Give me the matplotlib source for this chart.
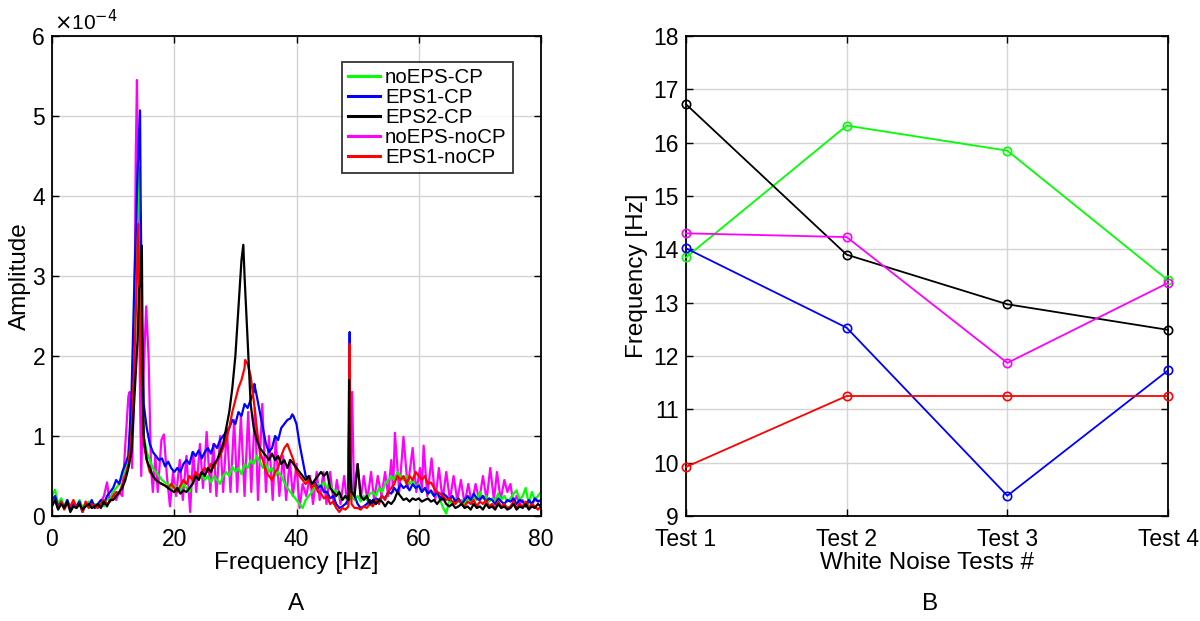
import numpy as np
import matplotlib
matplotlib.use("Agg")
import matplotlib.pyplot as plt

plt.rcParams['font.family'] = ['Liberation Sans', 'DejaVu Sans']

# ---------------- Data: panel A (amplitude in units of 1e-4) ----------------
grid_step = 0.5
# base samples on a 0.5 Hz grid from 0 to 80 Hz (rows of 5 Hz)
a_green = [
    0.25, 0.33, 0.15, 0.22, 0.12, 0.20, 0.10, 0.18, 0.12, 0.20,
    0.10, 0.15, 0.18, 0.10, 0.15, 0.12, 0.18, 0.12, 0.22, 0.20,
    0.30, 0.35, 0.40, 0.50, 0.60, 0.80, 1.30, 2.50, 3.80, 3.00,
    1.00, 0.80, 0.70, 0.60, 0.55, 0.50, 0.45, 0.42, 0.40, 0.35,
    0.38, 0.35, 0.32, 0.40, 0.35, 0.30, 0.45, 0.50, 0.45, 0.52,
    0.45, 0.50, 0.42, 0.50, 0.45, 0.40, 0.50, 0.55, 0.50, 0.62,
    0.55, 0.60, 0.52, 0.65, 0.60, 0.70, 0.65, 0.75, 0.68, 0.60,
    0.65, 0.55, 0.60, 0.50, 0.55, 0.50, 0.42, 0.35, 0.30, 0.25,
    0.20, 0.15, 0.10, 0.20, 0.25, 0.30, 0.35, 0.40, 0.38, 0.42,
    0.35, 0.40, 0.30, 0.32, 0.25, 0.20, 0.25, 0.18, 0.25, 0.20,
    0.25, 0.18, 0.25, 0.20, 0.28, 0.30, 0.25, 0.35, 0.30, 0.40,
    0.45, 0.50, 0.45, 0.55, 0.50, 0.45, 0.50, 0.40, 0.45, 0.35,
    0.40, 0.30, 0.35, 0.28, 0.30, 0.25, 0.28, 0.20, 0.10, 0.03,
    0.20, 0.15, 0.22, 0.18, 0.20, 0.15, 0.22, 0.18, 0.25, 0.20,
    0.30, 0.22, 0.25, 0.18, 0.22, 0.20, 0.28, 0.20, 0.25, 0.18,
    0.22, 0.28, 0.32, 0.20, 0.25, 0.35, 0.15, 0.30, 0.20, 0.25,
    0.30]
f_green_pk = [14.2, 14.3, 14.7]
a_green_pk = [4.20, 4.35, 1.80]

a_blue = [
    0.20, 0.25, 0.12, 0.18, 0.10, 0.20, 0.08, 0.15, 0.12, 0.18,
    0.05, 0.15, 0.12, 0.20, 0.10, 0.15, 0.20, 0.15, 0.25, 0.30,
    0.35, 0.45, 0.40, 0.55, 0.65, 0.75, 1.50, 3.00, 4.30, 4.00,
    1.40, 1.10, 0.90, 0.80, 0.75, 0.70, 0.72, 0.62, 0.68, 0.60,
    0.55, 0.60, 0.55, 0.65, 0.70, 0.65, 0.80, 0.75, 0.82, 0.72,
    0.80, 0.85, 0.78, 0.90, 0.85, 0.95, 1.00, 1.05, 1.10, 1.20,
    1.15, 1.30, 1.25, 1.40, 1.35, 1.45, 1.55, 1.50, 1.30, 1.10,
    0.90, 0.80, 0.85, 1.00, 0.95, 1.10, 1.15, 1.20, 1.22, 1.25,
    1.15, 0.90, 0.70, 0.50, 0.45, 0.40, 0.42, 0.35, 0.38, 0.30,
    0.30, 0.22, 0.25, 0.15, 0.10, 0.12, 0.15, 0.20, 0.30, 0.25,
    0.15, 0.10, 0.12, 0.15, 0.20, 0.15, 0.22, 0.20, 0.25, 0.22,
    0.30, 0.28, 0.35, 0.30, 0.40, 0.35, 0.38, 0.32, 0.40, 0.35,
    0.38, 0.30, 0.35, 0.28, 0.32, 0.25, 0.30, 0.22, 0.28, 0.25,
    0.20, 0.25, 0.18, 0.22, 0.15, 0.20, 0.25, 0.20, 0.28, 0.22,
    0.20, 0.25, 0.18, 0.22, 0.20, 0.15, 0.22, 0.18, 0.15, 0.20,
    0.18, 0.22, 0.15, 0.20, 0.18, 0.12, 0.20, 0.15, 0.22, 0.18,
    0.20]
f_blue_pk = [13.8, 14.2, 14.4, 14.7, 33.1, 39.3, 48.6, 48.7, 48.8]
a_blue_pk = [3.80, 4.70, 5.07, 2.50, 1.65, 1.27, 1.00, 2.30, 0.80]

a_red = [
    0.15, 0.20, 0.10, 0.18, 0.08, 0.15, 0.12, 0.20, 0.10, 0.15,
    0.05, 0.18, 0.10, 0.15, 0.12, 0.10, 0.15, 0.20, 0.15, 0.18,
    0.25, 0.30, 0.28, 0.40, 0.50, 0.65, 1.00, 2.00, 3.40, 2.00,
    0.90, 0.70, 0.55, 0.50, 0.45, 0.42, 0.40, 0.38, 0.35, 0.40,
    0.35, 0.30, 0.38, 0.45, 0.40, 0.50, 0.45, 0.55, 0.50, 0.55,
    0.60, 0.55, 0.65, 0.60, 0.70, 0.75, 0.85, 0.95, 1.10, 1.30,
    1.45, 1.60, 1.70, 1.85, 1.90, 1.75, 1.45, 1.10, 0.80, 0.70,
    0.55, 0.50, 0.45, 0.55, 0.60, 0.75, 0.85, 0.90, 0.80, 0.70,
    0.55, 0.50, 0.45, 0.40, 0.45, 0.35, 0.40, 0.30, 0.28, 0.22,
    0.25, 0.15, 0.18, 0.10, 0.05, 0.10, 0.08, 0.12, 0.15, 0.10,
    0.10, 0.08, 0.12, 0.10, 0.15, 0.12, 0.20, 0.15, 0.25, 0.20,
    0.30, 0.35, 0.40, 0.50, 0.45, 0.50, 0.40, 0.50, 0.45, 0.55,
    0.50, 0.45, 0.50, 0.40, 0.42, 0.35, 0.30, 0.28, 0.25, 0.20,
    0.22, 0.18, 0.15, 0.20, 0.15, 0.12, 0.18, 0.15, 0.20, 0.12,
    0.18, 0.15, 0.20, 0.12, 0.15, 0.10, 0.18, 0.12, 0.15, 0.10,
    0.12, 0.18, 0.10, 0.15, 0.12, 0.18, 0.10, 0.15, 0.12, 0.08,
    0.12]
f_red_pk = [13.9, 14.1, 14.3, 31.6, 48.6, 48.7, 48.8]
a_red_pk = [3.00, 3.65, 2.80, 1.95, 1.00, 2.15, 0.80]

a_black = [
    0.12, 0.20, 0.08, 0.15, 0.10, 0.18, 0.05, 0.12, 0.10, 0.15,
    0.08, 0.12, 0.15, 0.10, 0.12, 0.15, 0.10, 0.18, 0.12, 0.20,
    0.20, 0.25, 0.30, 0.35, 0.45, 0.60, 0.80, 1.50, 2.20, 2.90,
    1.00, 0.70, 0.60, 0.50, 0.45, 0.42, 0.40, 0.38, 0.35, 0.32,
    0.30, 0.35, 0.28, 0.32, 0.30, 0.35, 0.40, 0.50, 0.45, 0.55,
    0.50, 0.60, 0.55, 0.65, 0.70, 0.80, 0.90, 1.10, 1.30, 1.60,
    2.00, 2.60, 3.20, 3.00, 2.20, 1.40, 1.10, 0.95, 0.85, 0.80,
    0.75, 0.70, 0.78, 0.70, 0.75, 0.65, 0.70, 0.60, 0.70, 0.65,
    0.60, 0.55, 0.50, 0.45, 0.50, 0.40, 0.45, 0.50, 0.55, 0.50,
    0.55, 0.35, 0.30, 0.25, 0.30, 0.20, 0.25, 0.20, 0.30, 0.25,
    0.65, 0.25, 0.20, 0.25, 0.15, 0.20, 0.15, 0.20, 0.18, 0.12,
    0.18, 0.15, 0.20, 0.30, 0.25, 0.20, 0.22, 0.18, 0.22, 0.20,
    0.22, 0.18, 0.20, 0.22, 0.18, 0.20, 0.15, 0.20, 0.22, 0.15,
    0.12, 0.15, 0.10, 0.12, 0.15, 0.10, 0.12, 0.08, 0.15, 0.10,
    0.12, 0.08, 0.15, 0.10, 0.12, 0.08, 0.15, 0.10, 0.12, 0.08,
    0.10, 0.15, 0.08, 0.12, 0.10, 0.15, 0.08, 0.12, 0.10, 0.15,
    0.12]
f_black_pk = [14.25, 14.7, 14.85, 31.3, 48.5, 48.6, 48.7]
a_black_pk = [2.85, 3.38, 1.80, 3.39, 0.80, 1.70, 0.70]

f_magenta = [
    0.0, 0.5, 1.0, 1.5, 2.0, 2.5, 3.0, 3.5, 4.0, 4.5, 5.0, 5.5, 6.0, 6.5, 7.0, 7.5, 8.0, 8.5,
    9.0, 9.4, 10.0, 10.5, 11.0, 11.5, 12.0, 12.5, 12.7, 13.1, 13.4, 13.7, 13.9, 14.1, 14.4, 14.6,
    15.0, 15.4, 15.8, 16.2, 16.5, 16.9, 17.3, 17.9, 18.3, 18.8, 19.3, 19.8, 20.3, 20.9, 21.4,
    22.0, 22.6, 23.1, 23.6, 24.2, 24.7, 25.3, 25.9, 26.4, 26.9, 27.5, 28.0, 28.6, 29.2, 29.8,
    30.3, 30.9, 31.5, 32.1, 32.6, 33.2, 33.7, 34.4, 35.0, 35.5, 36.1, 36.6, 37.2, 37.8, 38.3,
    38.9, 39.4, 40.0, 40.5, 41.0, 41.6, 42.2, 42.7, 43.3, 43.8, 44.4, 44.9, 45.5, 46.1, 46.6,
    47.2, 47.8, 48.3, 48.8, 49.1, 49.4, 50.0, 50.5, 51.0, 51.6, 52.2, 52.7, 53.3, 53.9, 54.5,
    55.0, 55.5, 55.8, 56.1, 56.8, 57.5, 58.2, 59.0, 59.6, 60.2, 60.5, 60.8, 61.4, 62.1, 62.7,
    63.3, 63.9, 64.5, 65.1, 65.7, 66.3, 66.9, 67.5, 68.1, 68.7, 69.3, 69.9, 70.5, 71.1, 71.7,
    72.3, 72.8, 73.4, 74.0, 74.5, 75.0, 75.5, 76.0, 76.5, 77.0, 77.5, 78.0, 78.5, 79.0, 80.0]
a_magenta = [
    0.15, 0.20, 0.10, 0.18, 0.12, 0.20, 0.10, 0.15, 0.12, 0.18, 0.10, 0.15, 0.12, 0.18, 0.10, 0.15, 0.18, 0.25,
    0.42, 0.20, 0.30, 0.20, 0.30, 0.25, 0.90, 1.50, 1.55, 0.60, 1.50, 4.50, 5.45, 4.00, 1.50, 0.50,
    1.80, 2.62, 2.00, 0.60, 0.30, 0.75, 0.30, 0.95, 1.02, 0.50, 0.12, 0.55, 0.25, 0.70, 0.20,
    0.75, 0.05, 0.80, 0.30, 0.90, 0.35, 1.05, 0.30, 0.90, 0.25, 1.00, 0.30, 1.10, 0.30, 1.20,
    0.30, 1.25, 0.25, 1.30, 0.30, 1.35, 0.20, 1.40, 0.30, 1.00, 0.20, 0.95, 0.25, 0.75, 0.20,
    0.70, 0.25, 0.65, 0.10, 0.40, 0.25, 0.50, 0.15, 0.55, 0.20, 0.55, 0.15, 0.55, 0.15, 0.45,
    0.15, 0.50, 0.15, 0.30, 1.55, 0.30, 0.65, 0.20, 0.50, 0.20, 0.55, 0.20, 0.50, 0.25, 0.55,
    0.25, 0.70, 0.30, 1.04, 0.30, 0.99, 0.35, 0.85, 0.30, 0.60, 0.30, 0.88, 0.25, 0.72, 0.20,
    0.60, 0.20, 0.55, 0.20, 0.50, 0.20, 0.45, 0.15, 0.40, 0.15, 0.40, 0.20, 0.50, 0.20, 0.60,
    0.20, 0.55, 0.20, 0.45, 0.30, 0.40, 0.15, 0.25, 0.15, 0.20, 0.12, 0.20, 0.15, 0.20, 0.18]

# ---------------- Data: panel B ----------------
tests = ["Test 1", "Test 2", "Test 3", "Test 4"]
fr_noEPS_CP = [13.85, 16.32, 15.85, 13.42]
fr_EPS1_CP = [14.02, 12.53, 9.38, 11.73]
fr_EPS2_CP = [16.72, 13.90, 12.97, 12.49]
fr_noEPS_noCP = [14.30, 14.23, 11.87, 13.37]
fr_EPS1_noCP = [9.92, 11.25, 11.25, 11.25]

labels = ["noEPS-CP", "EPS1-CP", "EPS2-CP", "noEPS-noCP", "EPS1-noCP"]
colors = ["#00ff00", "#0000ff", "#000000", "#ff00ff", "#ff0000"]


def merge(base, fpk, apk):
    fb = np.arange(len(base)) * grid_step
    f = np.concatenate([fb, fpk])
    a = np.concatenate([np.asarray(base, float), apk])
    o = np.argsort(f, kind="stable")
    return f[o], a[o]


fig = plt.figure(figsize=(12, 6.21), dpi=100)
axA = fig.add_axes([52 / 1200, 1 - 516 / 621, (541 - 52) / 1200, 480 / 621])
axB = fig.add_axes([686 / 1200, 1 - 516 / 621, (1168 - 686) / 1200, 480 / 621])

TFS = 16.5   # tick labels
LFS = 17.5   # axis labels
for ax in (axA, axB):
    ax.grid(True, color="#d4d4d4", lw=1.0)
    ax.set_axisbelow(True)
    ax.tick_params(direction="in", top=True, right=True, length=5, width=1.0,
                   labelsize=TFS)
    ax.tick_params(axis="x", pad=9)
    ax.tick_params(axis="y", pad=5)
    for s in ax.spines.values():
        s.set_linewidth(1.3)

series = {
    "noEPS-CP": merge(a_green, f_green_pk, a_green_pk),
    "EPS1-CP": merge(a_blue, f_blue_pk, a_blue_pk),
    "EPS2-CP": merge(a_black, f_black_pk, a_black_pk),
    "noEPS-noCP": (np.array(f_magenta), np.array(a_magenta)),
    "EPS1-noCP": merge(a_red, f_red_pk, a_red_pk),
}
handles = {}
draw_order = ["noEPS-noCP", "noEPS-CP", "EPS1-CP", "EPS1-noCP", "EPS2-CP"]
for lab in draw_order:
    f, a = series[lab]
    c = colors[labels.index(lab)]
    (h,) = axA.plot(f, a, color=c, lw=1.6, label=lab)
    handles[lab] = h

axA.set_xlim(0, 80)
axA.set_ylim(0, 6)
axA.set_xticks([0, 20, 40, 60, 80])
axA.set_yticks([0, 1, 2, 3, 4, 5, 6])
axA.set_xlabel("Frequency [Hz]", fontsize=LFS)
axA.set_ylabel("Amplitude", fontsize=LFS)
axA.text(0.005, 1.004, r"$\times$10$^{-4}$", transform=axA.transAxes, fontsize=15,
         ha="left", va="bottom")
leg = axA.legend([handles[l] for l in labels], labels, loc="upper left",
                 bbox_to_anchor=((342 - 52) / 489, (516 - 62) / 480), fontsize=14.8,
                 frameon=True, fancybox=False, edgecolor="black", handlelength=1.55,
                 labelspacing=0.05, borderpad=0.3, handletextpad=0.25,
                 borderaxespad=0)
leg.get_frame().set_linewidth(1.3)
for lh in leg.get_lines():
    lh.set_linewidth(2.2)

xB = np.arange(len(tests))
for lab, vals in zip(labels, [fr_noEPS_CP, fr_EPS1_CP, fr_EPS2_CP, fr_noEPS_noCP, fr_EPS1_noCP]):
    c = colors[labels.index(lab)]
    axB.plot(xB, vals, color=c, lw=1.3, marker="o", ms=6, mfc="none", mew=1.2,
             clip_on=False, zorder=3)
axB.set_xlim(0, 3)
axB.set_ylim(9, 18)
axB.set_xticks(xB)
axB.set_xticklabels(tests)
axB.set_yticks(range(9, 19))
axB.set_xlabel("White Noise Tests #", fontsize=LFS)
axB.set_ylabel("Frequency [Hz]", fontsize=LFS)

# label placement (centres)
axA.xaxis.set_label_coords(0.5, (516 - 563) / 480)
axA.xaxis.label.set_va("center")
axA.yaxis.set_label_coords((20 - 52) / 489, 0.5)
axA.yaxis.label.set_va("center")
axB.xaxis.set_label_coords(0.5, (516 - 563) / 480)
axB.xaxis.label.set_va("center")
axB.yaxis.set_label_coords((637 - 686) / 482, 0.5)
axB.yaxis.label.set_va("center")

fig.text(296 / 1200, 1 - 604 / 621, "A", fontsize=LFS, ha="center", va="center")
fig.text(930 / 1200, 1 - 604 / 621, "B", fontsize=LFS, ha="center", va="center")

fig.savefig("out.png", dpi=100)
